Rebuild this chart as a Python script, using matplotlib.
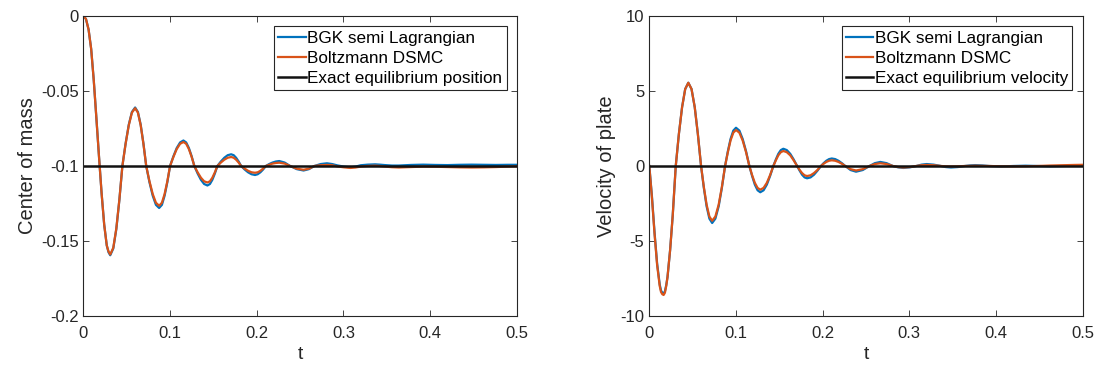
#!/usr/bin/env python3

import matplotlib
matplotlib.use('Agg')
import matplotlib.pyplot as plt

# time grid for the position plot
t_pos = [0.0, 0.003, 0.006, 0.009, 0.012, 0.015, 0.018, 0.021, 0.024, 0.027, 0.029, 0.031,
         0.0345, 0.038, 0.0415, 0.045, 0.0487, 0.0524, 0.056, 0.0597, 0.0629, 0.0661, 0.0693,
         0.0725, 0.0762, 0.08, 0.0837, 0.0874, 0.0906, 0.0937, 0.0969, 0.1, 0.1039, 0.1077,
         0.1116, 0.1154, 0.1186, 0.1217, 0.1249, 0.128, 0.1318, 0.1356, 0.1393, 0.1431, 0.146,
         0.1488, 0.1517, 0.1546, 0.1586, 0.1626, 0.1665, 0.1705, 0.1734, 0.1762, 0.1791, 0.182,
         0.186, 0.19, 0.194, 0.198, 0.2011, 0.2042, 0.2074, 0.2105, 0.2144, 0.2182, 0.2221, 0.226,
         0.2322, 0.2385, 0.2462, 0.254, 0.2602, 0.2665, 0.2737, 0.281, 0.287, 0.293, 0.3005, 0.308,
         0.314, 0.32, 0.328, 0.3365, 0.342, 0.348, 0.356, 0.364, 0.378, 0.392,
         0.406, 0.42, 0.434, 0.448, 0.462, 0.476, 0.49, 0.5]

pos_bgk = [0.0, -0.002, -0.009, -0.022, -0.043, -0.068, -0.0935, -0.118, -0.139, -0.153, -0.1575, -0.1595,
           -0.155, -0.1421, -0.1228, -0.1, -0.0851, -0.0724, -0.064, -0.061, -0.064, -0.0724, -0.0851,
           -0.1, -0.1107, -0.1198, -0.1259, -0.128, -0.1259, -0.1198, -0.1107, -0.1, -0.0935, -0.088,
           -0.0843, -0.083, -0.0843, -0.088, -0.0935, -0.1, -0.105, -0.1092, -0.112, -0.113, -0.112,
           -0.1092, -0.105, -0.1, -0.097, -0.0945, -0.0928, -0.0922, -0.0928, -0.0945, -0.097, -0.1,
           -0.1023, -0.1042, -0.1055, -0.106, -0.1055, -0.1042, -0.1023, -0.1, -0.0987, -0.0977, -0.097, -0.0967,
           -0.0977, -0.1, -0.1021, -0.103, -0.1021, -0.1, -0.0987, -0.0982, -0.0987, -0.0996, -0.1004, -0.1009,
           -0.1004, -0.0995, -0.0991, -0.0989, -0.0991, -0.0994, -0.0997, -0.0997, -0.0993, -0.0991,
           -0.0993, -0.0994, -0.0992, -0.0991, -0.0992, -0.0993, -0.0992, -0.0992]

pos_dsmc = [0.0, -0.002, -0.009, -0.022, -0.043, -0.068, -0.0935, -0.118, -0.139, -0.153, -0.157, -0.159,
            -0.1545, -0.1417, -0.1226, -0.1, -0.0853, -0.0728, -0.0644, -0.0615, -0.0644, -0.0728, -0.0853,
            -0.1, -0.1101, -0.1187, -0.1245, -0.1265, -0.1245, -0.1187, -0.1101, -0.1, -0.0939, -0.0887,
            -0.0852, -0.084, -0.0852, -0.0887, -0.0939, -0.1, -0.1042, -0.1078, -0.1102, -0.111, -0.1102,
            -0.1078, -0.1042, -0.1, -0.0977, -0.0958, -0.0945, -0.094, -0.0945, -0.0958, -0.0977, -0.1,
            -0.1017, -0.1032, -0.1042, -0.1045, -0.1042, -0.1032, -0.1017, -0.1, -0.0992, -0.0984, -0.098, -0.0978,
            -0.0984, -0.1, -0.1018, -0.1025, -0.1018, -0.1, -0.0995, -0.0993, -0.0995, -0.1003, -0.1009, -0.1013,
            -0.101, -0.1004, -0.1, -0.0998, -0.1, -0.1004, -0.1008, -0.101, -0.1007, -0.1004,
            -0.1005, -0.1007, -0.1009, -0.101, -0.1009, -0.1007, -0.1004, -0.1002]

# time grid for the velocity plot
t_vel = [0.0, 0.003, 0.006, 0.009, 0.012, 0.0135, 0.015, 0.0165, 0.018, 0.0195, 0.021, 0.024, 0.027,
         0.0305, 0.0341, 0.0378, 0.0414, 0.045, 0.0487, 0.0524, 0.056, 0.0597, 0.0629, 0.0661, 0.0693,
         0.0725, 0.0762, 0.08, 0.0837, 0.0874, 0.0906, 0.0937, 0.0969, 0.1, 0.1039, 0.1077,
         0.1116, 0.1154, 0.1186, 0.1217, 0.1249, 0.128, 0.1318, 0.1356, 0.1393, 0.1431, 0.146,
         0.1488, 0.1517, 0.1546, 0.1586, 0.1626, 0.1665, 0.1705, 0.1734, 0.1762, 0.1791, 0.182,
         0.186, 0.19, 0.194, 0.198, 0.2011, 0.2042, 0.2074, 0.2105, 0.2144, 0.2182, 0.2221, 0.226,
         0.2322, 0.2385, 0.2462, 0.254, 0.2602, 0.2665, 0.2737, 0.281, 0.287, 0.293, 0.3005, 0.308,
         0.314, 0.32, 0.328, 0.3365, 0.342, 0.348, 0.356, 0.364, 0.37, 0.376, 0.384,
         0.392, 0.406, 0.42, 0.434, 0.448, 0.462, 0.476, 0.49, 0.5]

vel_bgk = [0.0, -2.0, -4.4, -6.5, -7.9, -8.3, -8.45, -8.5, -8.35, -7.95, -7.4, -5.6, -3.3,
           0.0, 2.13, 3.92, 5.13, 5.55, 5.13, 3.92, 2.13, 0.0, -1.46, -2.69, -3.51,
           -3.8, -3.51, -2.69, -1.46, 0.0, 0.98, 1.8, 2.36, 2.55, 2.36, 1.8,
           0.98, 0.0, -0.67, -1.24, -1.62, -1.75, -1.62, -1.24, -0.67, 0.0, 0.44,
           0.81, 1.06, 1.15, 1.06, 0.81, 0.44, 0.0, -0.31, -0.58, -0.76, -0.82,
           -0.76, -0.58, -0.31, 0.0, 0.19, 0.35, 0.46, 0.5, 0.46, 0.35, 0.19, 0.0,
           -0.27, -0.38, -0.27, 0.0, 0.19, 0.27, 0.19, 0.0, -0.09, -0.13, -0.09, 0.0,
           0.09, 0.13, 0.09, 0.0, -0.07, -0.1, -0.07, 0.0, 0.04, 0.06, 0.04,
           0.0, -0.03, 0.0, 0.02, 0.0, -0.02, 0.0, 0.02, 0.01]

vel_dsmc = [0.0, -2.1, -4.5, -6.6, -8.0, -8.4, -8.55, -8.6, -8.45, -8.0, -7.4, -5.6, -3.3,
            0.0, 2.13, 3.92, 5.13, 5.55, 5.13, 3.92, 2.13, 0.0, -1.4, -2.58, -3.37,
            -3.65, -3.37, -2.58, -1.4, 0.0, 0.92, 1.7, 2.22, 2.4, 2.22, 1.7,
            0.92, 0.0, -0.61, -1.12, -1.46, -1.58, -1.46, -1.12, -0.61, 0.0, 0.38,
            0.71, 0.92, 1.0, 0.92, 0.71, 0.38, 0.0, -0.26, -0.47, -0.62, -0.67,
            -0.62, -0.47, -0.26, 0.0, 0.15, 0.27, 0.35, 0.38, 0.35, 0.27, 0.15, 0.0,
            -0.21, -0.3, -0.21, 0.0, 0.13, 0.18, 0.13, 0.0, -0.07, -0.1, -0.07, 0.0,
            0.05, 0.07, 0.05, 0.0, -0.02, -0.03, -0.02, 0.0, 0.01, 0.02, 0.01,
            0.0, -0.02, -0.03, -0.02, 0.0, 0.03, 0.05, 0.07, 0.08]

pos_eq = -0.1
vel_eq = 0.0

x_ticks = [0, 0.1, 0.2, 0.3, 0.4, 0.5]
x_ticklabels = ['0', '0.1', '0.2', '0.3', '0.4', '0.5']
pos_ticks = [-0.2, -0.15, -0.1, -0.05, 0]
pos_ticklabels = ['-0.2', '-0.15', '-0.1', '-0.05', '0']
vel_ticks = [-10, -5, 0, 5, 10]
vel_ticklabels = ['-10', '-5', '0', '5', '10']

blue = '#0072BD'
orange = '#D95319'

plt.rcParams['font.family'] = ['Liberation Sans', 'DejaVu Sans']

fig = plt.figure(figsize=(10.97, 3.67), dpi=100)
ax1 = fig.add_axes([0.0760, 0.1390, 0.3951, 0.8174])
ax2 = fig.add_axes([0.5919, 0.1390, 0.3951, 0.8174])


def style(ax, yticks, yticklabels, ylim, ylabel):
    ax.set_xlim(0, 0.5)
    ax.set_ylim(*ylim)
    ax.set_xticks(x_ticks)
    ax.set_xticklabels(x_ticklabels)
    ax.set_yticks(yticks)
    ax.set_yticklabels(yticklabels)
    ax.tick_params(direction='in', top=True, right=True, length=4, width=0.6,
                   colors='#262626', labelsize=12, labelcolor='#262626')
    ax.tick_params(axis='x', pad=7)
    for s in ax.spines.values():
        s.set_color('#262626')
        s.set_linewidth(0.8)
    ax.set_xlabel('t', fontsize=14, color='#262626', labelpad=4)
    ax.set_ylabel(ylabel, fontsize=14.5, color='#262626', labelpad=3)
    leg = ax.legend(loc='upper right', fontsize=12.3, frameon=True, fancybox=False,
                    handlelength=1.6, handletextpad=0.1, borderpad=0.25,
                    labelspacing=0.3, borderaxespad=0.6)
    leg.get_frame().set_edgecolor('#262626')
    leg.get_frame().set_linewidth(0.8)
    leg.get_frame().set_alpha(1)


ax1.plot(t_pos, pos_bgk, color=blue, lw=1.6, label='BGK semi Lagrangian')
ax1.plot(t_pos, pos_dsmc, color=orange, lw=1.6, label='Boltzmann DSMC')
ax1.axhline(pos_eq, color='#111111', lw=1.8, label='Exact equilibrium position')
style(ax1, pos_ticks, pos_ticklabels, (-0.2, 0), 'Center of mass')

ax2.plot(t_vel, vel_bgk, color=blue, lw=1.6, label='BGK semi Lagrangian')
ax2.plot(t_vel, vel_dsmc, color=orange, lw=1.6, label='Boltzmann DSMC')
ax2.axhline(vel_eq, color='#111111', lw=1.8, label='Exact equilibrium velocity')
style(ax2, vel_ticks, vel_ticklabels, (-10, 10), 'Velocity of plate')

fig.savefig('out.png', dpi=100)
